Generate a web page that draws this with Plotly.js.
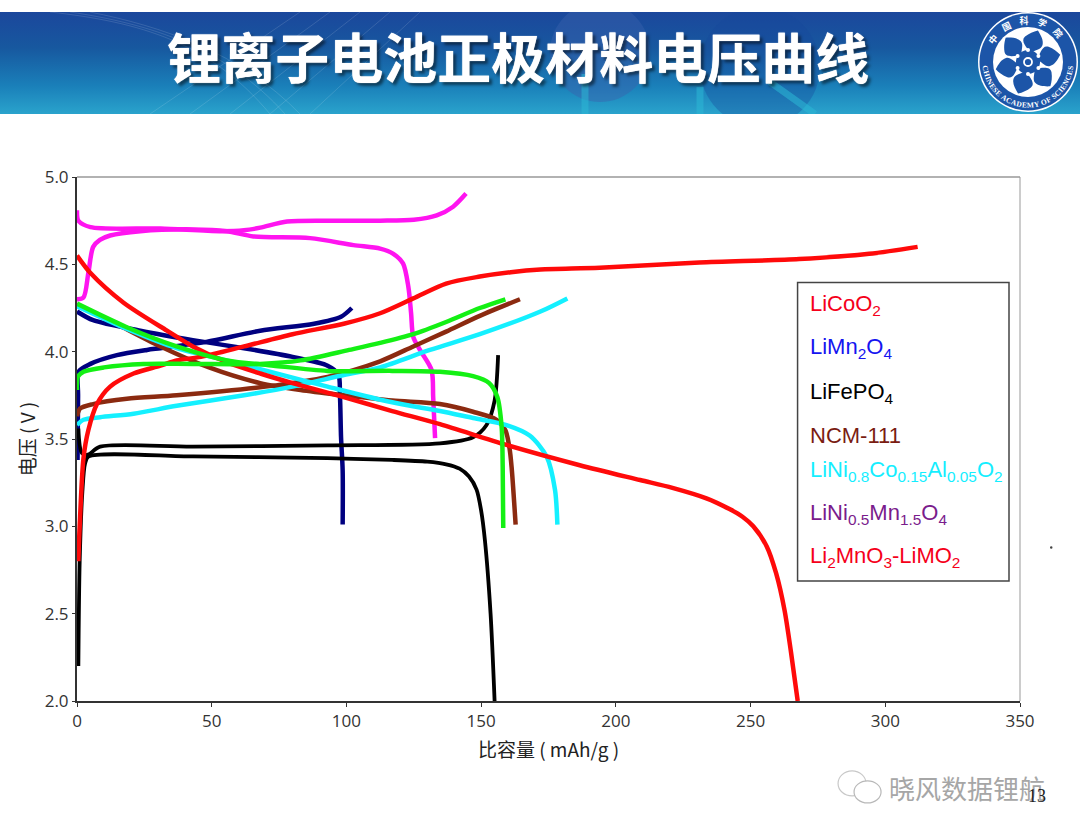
<!DOCTYPE html>
<html>
<head>
<meta charset="utf-8">
<script src="https://cdn.plot.ly/plotly-3.0.1.min.js"></script>
<style>
  html, body { margin: 0; padding: 0; background: #fff; }
  #page { position: relative; width: 1080px; height: 835px; overflow: hidden; }
  #banner { position: absolute; left: 0; top: 12px; width: 1080px; height: 102px;
    background: linear-gradient(180deg, #1b479c 0%, #17589f 35%, #1a7fb9 72%, #2aa3cc 100%); }
  #chart { position: absolute; left: 0; top: 0; width: 1080px; height: 835px; }
</style>
</head>
<body>
<div id="page">
  <div id="banner">
    <svg width="1080" height="102" style="position:absolute;left:0;top:0">
      <g fill="none" stroke="#ffffff" stroke-opacity="0.13">
        <path d="M50 0 C140 10 210 30 270 102"/><path d="M70 0 C150 12 225 35 285 102"/>
        <path d="M90 0 C160 14 240 40 300 102"/><path d="M300 0 L150 102"/><path d="M330 0 L190 102"/>
        <path d="M360 0 L230 102"/><path d="M390 0 L270 102"/><path d="M420 0 L310 102"/>
      </g>
      <circle cx="600" cy="40" r="50" fill="#3a62ad" fill-opacity="0.45"/>
      <circle cx="760" cy="55" r="60" fill="#17479b" fill-opacity="0.35"/>
      <path d="M585 62 L585 102 M700 75 L700 102 M770 70 L815 102" stroke="#2bb8d6" stroke-width="7" stroke-opacity="0.55"/>
    </svg>
  </div>
  <div id="chart"></div>
</div>
<script>
// Discharge / charge curves (capacity mAh/g, voltage V).
const magentaChargeX = [0, 0.5, 5, 31, 53, 62, 68, 78, 93, 112.5, 125, 133.5, 139.6, 144.4];
const magentaChargeY = [4.81, 4.75, 4.713, 4.705, 4.69, 4.695, 4.71, 4.745, 4.75, 4.75, 4.755, 4.78, 4.83, 4.905];
const magentaDisX = [0, 2.4, 4.2, 6, 8.5, 12.3, 23.5, 43, 55.6, 65.5, 86.5, 102.6, 112.5, 117.4, 121, 123, 124, 124.8, 127.3, 131.6, 132.2, 132.9];
const magentaDisY = [4.30, 4.31, 4.45, 4.60, 4.64, 4.665, 4.69, 4.70, 4.69, 4.66, 4.65, 4.61, 4.59, 4.56, 4.505, 4.37, 4.22, 4.085, 4.01, 3.895, 3.74, 3.505];

const redChargeX = [0.5, 1, 2.4, 4.2, 7.4, 12.3, 21, 31, 37, 46, 62, 80, 99, 112.5, 124.8, 137, 149.5, 161, 172, 194, 231, 268, 294, 312];
const redChargeY = [2.8, 3.0, 3.39, 3.55, 3.70, 3.80, 3.875, 3.92, 3.95, 3.97, 4.03, 4.10, 4.16, 4.22, 4.305, 4.39, 4.43, 4.455, 4.47, 4.48, 4.51, 4.53, 4.56, 4.60];
const redDisX = [0, 5, 17.3, 33.4, 43, 55.6, 68, 80, 99, 117, 134.7, 159.4, 186.6, 209, 221, 233.6, 242, 247, 251, 256, 259.5, 262.6, 265, 267.5];
const redDisY = [4.55, 4.45, 4.28, 4.12, 4.03, 3.94, 3.875, 3.82, 3.74, 3.66, 3.585, 3.466, 3.35, 3.265, 3.22, 3.16, 3.10, 3.055, 3.0, 2.885, 2.73, 2.52, 2.28, 2.0];

const navyChargeX = [0.2, 0.4, 0.6, 5, 14.8, 26, 31, 48, 68, 88, 98, 102];
const navyChargeY = [3.38, 3.75, 3.885, 3.93, 3.98, 4.01, 4.02, 4.056, 4.12, 4.16, 4.20, 4.25];
const navyDisX = [0, 6, 23.5, 43, 62, 80, 93, 97, 97.6, 98, 98.6, 98.6];
const navyDisY = [4.23, 4.18, 4.12, 4.066, 4.02, 3.97, 3.92, 3.87, 3.75, 3.51, 3.32, 3.01];

const blackChargeX = [0.5, 1.8, 4, 8.6, 43, 93, 134.7, 147, 152, 155, 156.3];
const blackChargeY = [3.56, 3.42, 3.41, 3.456, 3.456, 3.464, 3.475, 3.51, 3.58, 3.72, 3.98];
const blackDisX = [0.5, 1, 2, 3, 4.3, 43, 93, 117, 130, 137, 142, 145.5, 148.3, 150, 151.4, 153.5, 155];
const blackDisY = [2.2, 2.8, 3.2, 3.36, 3.40, 3.40, 3.39, 3.38, 3.37, 3.355, 3.33, 3.285, 3.21, 3.09, 2.92, 2.5, 2.0];

const greenChargeX = [0, 0.3, 2.4, 10, 24.7, 43, 68, 83, 101, 112.5, 124.8, 137, 149.5, 159];
const greenChargeY = [3.78, 3.856, 3.885, 3.91, 3.93, 3.93, 3.93, 3.95, 4.01, 4.05, 4.10, 4.17, 4.25, 4.30];
const greenDisX = [0, 18.5, 37, 55.6, 73, 93, 117, 134.7, 147, 153, 156, 157.6, 158, 158.2];
const greenDisY = [4.275, 4.14, 4.03, 3.95, 3.92, 3.89, 3.89, 3.885, 3.86, 3.82, 3.74, 3.57, 3.34, 2.99];

const brownChargeX = [0, 1.2, 6, 18.5, 37, 70, 93, 112.5, 124.8, 137, 149.5, 164.4];
const brownChargeY = [3.63, 3.675, 3.70, 3.73, 3.75, 3.80, 3.856, 3.945, 4.03, 4.115, 4.205, 4.30];
const brownDisX = [0, 12, 31, 49, 68, 83, 99, 117, 134.7, 147, 155.7, 159, 160.5, 161.3, 162.8];
const brownDisY = [4.27, 4.18, 4.03, 3.91, 3.82, 3.78, 3.75, 3.72, 3.70, 3.656, 3.61, 3.55, 3.45, 3.34, 3.01];

const cyanChargeX = [0, 2.4, 8.6, 21, 37, 62, 80, 99, 112.5, 131, 149.5, 172, 182];
const cyanChargeY = [3.58, 3.61, 3.625, 3.645, 3.69, 3.75, 3.80, 3.866, 3.91, 4.01, 4.10, 4.23, 4.305];
const cyanDisX = [0, 18.5, 37, 55.6, 74, 93, 117, 134.7, 147, 159.4, 168, 174.3, 177.4, 178.3];
const cyanDisY = [4.26, 4.13, 4.02, 3.95, 3.875, 3.80, 3.71, 3.66, 3.62, 3.58, 3.52, 3.40, 3.21, 3.01];

const xTicks = [0, 50, 100, 150, 200, 250, 300, 350];
const yTicks = [2.0, 2.5, 3.0, 3.5, 4.0, 4.5, 5.0];
const yTickLabels = ["2.0", "2.5", "3.0", "3.5", "4.0", "4.5", "5.0"];

const legendLabels = ["LiCoO<sub>2</sub>", "LiMn<sub>2</sub>O<sub>4</sub>", "LiFePO<sub>4</sub>", "NCM-111",
  "LiNi<sub>0.8</sub>Co<sub>0.15</sub>Al<sub>0.05</sub>O<sub>2</sub>",
  "LiNi<sub>0.5</sub>Mn<sub>1.5</sub>O<sub>4</sub>", "Li<sub>2</sub>MnO<sub>3</sub>-LiMO<sub>2</sub>"];
const legendColors = ["#f5001a", "#1414f0", "#000000", "#7a1c12", "#14eeff", "#7a1c8c", "#f5001a"];
const legendRows = [305, 348, 393, 435, 471, 514, 557];

const W = 1080, H = 835;
const M = { l: 76.7, r: 60, t: 176.5, b: 134 };
// page pixels -> paper coords, only for the frame furniture around the plot
const px = (x) => (x - M.l) / (W - M.l - M.r);
const py = (y) => 1 - (y - M.t) / (H - M.t - M.b);

const curve = (x, y, color, width) => ({
  type: "scatter", mode: "lines", x, y, hoverinfo: "skip",
  line: { color, width: width || 4.5, shape: "spline", smoothing: 0.8 },
});

const traces = [
  curve(navyChargeX, navyChargeY, "#000080"),
  curve(navyDisX, navyDisY, "#000080"),
  curve(blackChargeX, blackChargeY, "#000000", 3.8),
  curve(blackDisX, blackDisY, "#000000", 3.8),
  curve(magentaChargeX, magentaChargeY, "#ff14f0"),
  curve(magentaDisX, magentaDisY, "#ff14f0"),
  curve(brownChargeX, brownChargeY, "#8b2a10"),
  curve(brownDisX, brownDisY, "#8b2a10"),
  curve(cyanChargeX, cyanChargeY, "#14f0ff"),
  curve(cyanDisX, cyanDisY, "#14f0ff"),
  curve(redChargeX, redChargeY, "#ff0a0a"),
  curve(redDisX, redDisY, "#ff0a0a"),
  curve(greenChargeX, greenChargeY, "#14f014"),
  curve(greenDisX, greenDisY, "#14f014"),
];

const legendNotes = legendLabels.map((text, i) => ({
  xref: "paper", yref: "paper", x: px(808), y: py(legendRows[i]), xanchor: "left", yanchor: "middle",
  text, showarrow: false, align: "left",
  font: { family: "Liberation Sans, Arial, sans-serif", size: 22, color: legendColors[i] },
}));

const layout = {
  width: W, height: H,
  margin: M,
  paper_bgcolor: "rgba(0,0,0,0)",
  plot_bgcolor: "#ffffff",
  showlegend: false,
  title: {
    text: "<b>锂离子电池正极材料电压曲线</b>",
    xref: "paper", yref: "container", x: px(518), xanchor: "center", y: 1 - 60 / H, yanchor: "middle",
    font: { family: "Noto Sans CJK SC", size: 54, color: "#ffffff", shadow: "0 0 1px #fff, 3px 3px 3px rgba(0,0,0,0.5)" },
  },
  xaxis: {
    range: [0, 350], tickvals: xTicks, ticks: "outside", ticklen: 4, tickcolor: "#333",
    showgrid: false, zeroline: false, showline: true, linecolor: "#333", linewidth: 2,
    tickfont: { family: "Open Sans", size: 17, color: "#333" },
    title: { text: "比容量 (\u00a0mAh/g\u00a0)\u00a0\u00a0\u00a0", standoff: 12, font: { family: "Noto Sans CJK SC", size: 19, color: "#222" } },
  },
  yaxis: {
    range: [2, 5], tickvals: yTicks, ticktext: yTickLabels, ticks: "outside", ticklen: 3, tickcolor: "#333",
    showgrid: false, zeroline: false, showline: true, linecolor: "#333", linewidth: 2,
    tickfont: { family: "Open Sans", size: 17, color: "#333" },
    title: { text: "电压 ( V )", standoff: 4, font: { family: "Noto Sans CJK SC", size: 19, color: "#222" } },
  },
  shapes: [
    { type: "line", xref: "paper", yref: "paper", x0: 0, x1: 1, y0: 1, y1: 1, line: { color: "#999", width: 1.5 } },
    { type: "line", xref: "paper", yref: "paper", x0: 1, x1: 1, y0: 0, y1: 1, line: { color: "#999", width: 1 } },
    { type: "rect", xref: "paper", yref: "paper", x0: px(797.5), x1: px(1009), y0: py(581), y1: py(282),
      fillcolor: "#ffffff", line: { color: "#444", width: 1.5 } },
    // WeChat-style watermark bubbles
    { type: "circle", xref: "paper", yref: "paper", x0: px(838), x1: px(866), y0: py(796), y1: py(771),
      fillcolor: "#ffffff", line: { color: "#c8c8c8", width: 1.2 } },
    { type: "circle", xref: "paper", yref: "paper", x0: px(854), x1: px(881), y0: py(803), y1: py(781),
      fillcolor: "#ffffff", line: { color: "#b8b8b8", width: 1.2 } },
    // stray speck on the right of the slide
    { type: "circle", xref: "paper", yref: "paper", x0: px(1050), x1: px(1052.5), y0: py(548.5), y1: py(546),
      fillcolor: "#444", line: { width: 0 } },
  ],
  annotations: legendNotes.concat([
    { xref: "paper", yref: "paper", x: px(887), y: py(788), xanchor: "left", yanchor: "middle", showarrow: false,
      text: "晓风数据锂航", font: { family: "Noto Sans CJK SC", size: 26, color: "#a6a6a6" } },
    { xref: "paper", yref: "paper", x: px(1037), y: py(796), xanchor: "center", yanchor: "middle", showarrow: false,
      text: "13", font: { family: "Liberation Serif", size: 18, color: "#222" } },
  ]),
};

Plotly.newPlot("chart", traces, layout, { staticPlot: true, displayModeBar: false });
</script>
<svg width="104" height="104" viewBox="-52 -52 104 104" style="position:absolute;left:976px;top:10px">
  <defs>
    <path id="ringLow" d="M-45.5 0 A45.5 45.5 0 0 0 45.5 0"/>
    <path id="ringTop" d="M-38 0 A38 38 0 0 1 38 0"/>
    <path id="flowerPetal" d="M0 -9 C-4 -14 -13 -18 -9 -24 C-6 -28 -2 -31 2 -33 C6 -29 10 -25 10 -20 C10 -15 3 -13 0 -9Z"/>
  </defs>
  <circle r="50" fill="#ffffff"/>
  <circle r="48.5" fill="#1c55a8"/>
  <circle r="35" fill="#ffffff"/>
  <g fill="#1c55a8" transform="rotate(14)">
    <circle r="12"/>
    <use href="#flowerPetal"/>
    <use href="#flowerPetal" transform="rotate(60)"/>
    <use href="#flowerPetal" transform="rotate(120)"/>
    <use href="#flowerPetal" transform="rotate(180)"/>
    <use href="#flowerPetal" transform="rotate(240)"/>
    <use href="#flowerPetal" transform="rotate(300)"/>
  </g>
  <g fill="#ffffff">
    <circle cx="0" cy="-12" r="2"/><circle cx="10.4" cy="-6" r="2"/><circle cx="10.4" cy="6" r="2"/>
    <circle cx="0" cy="12" r="2"/><circle cx="-10.4" cy="6" r="2"/><circle cx="-10.4" cy="-6" r="2"/>
  </g>
  <circle r="4" fill="none" stroke="#ffffff" stroke-width="1.8"/>
  <text font-family="Liberation Serif" font-size="7.5" font-weight="bold" fill="#ffffff" letter-spacing="0.35"><textPath href="#ringLow" startOffset="50%" text-anchor="middle">CHINESE ACADEMY OF SCIENCES</textPath></text>
  <text font-family="Noto Sans CJK SC" font-size="9" font-weight="bold" fill="#ffffff" letter-spacing="8"><textPath href="#ringTop" startOffset="50%" text-anchor="middle">中国科学院</textPath></text>
</svg>
</body>
</html>
